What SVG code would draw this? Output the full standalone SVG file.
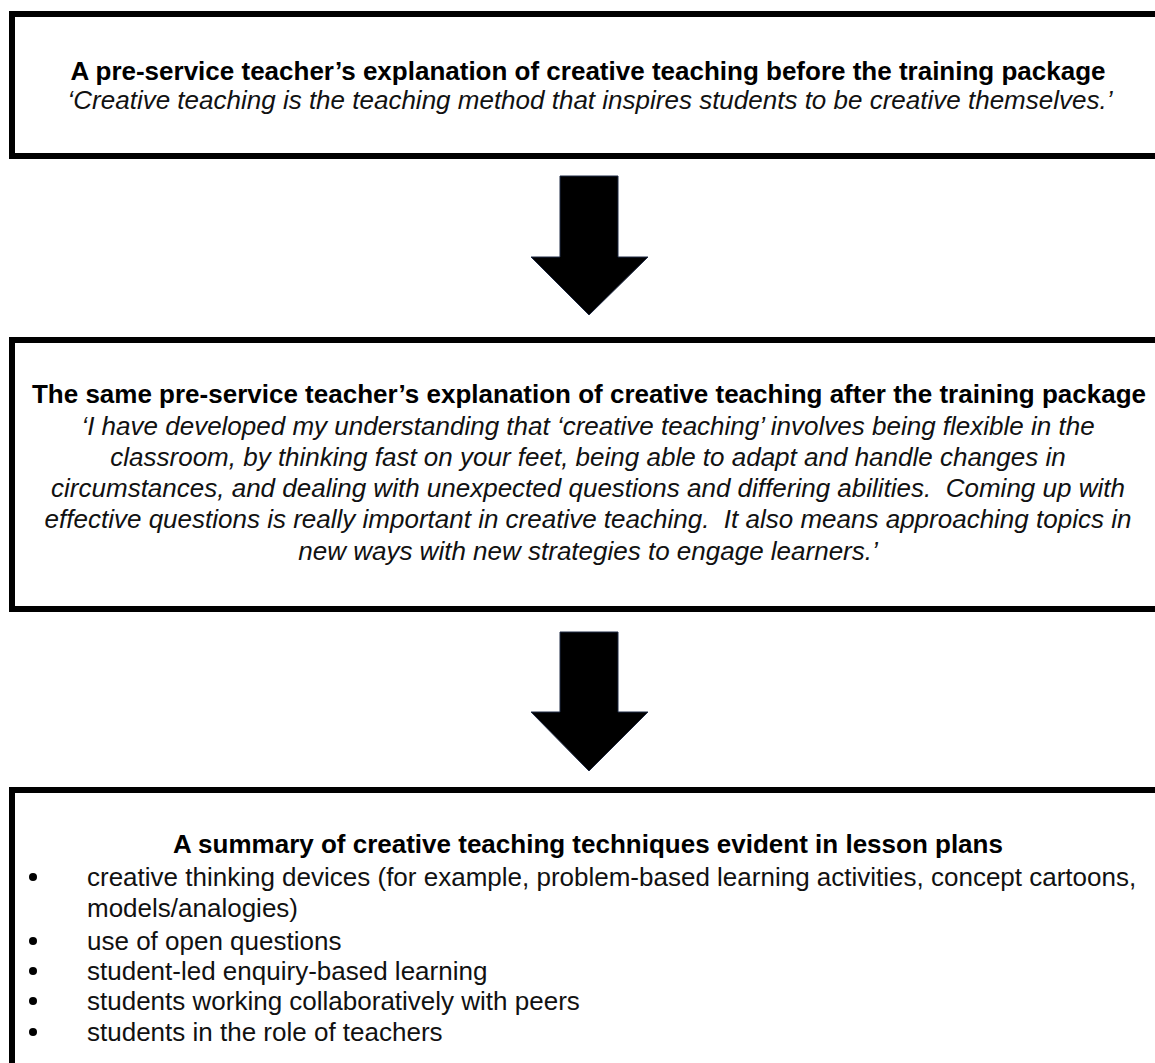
<svg xmlns="http://www.w3.org/2000/svg" width="1155" height="1063" viewBox="0 0 1155 1063">
<style>
.box{fill:#fff;stroke:#000;stroke-width:6}
.t{font-family:"Liberation Sans",Arial,sans-serif;font-size:26px;fill:#000}
.b{font-weight:bold;text-anchor:middle}
.i{font-style:italic;text-anchor:middle;fill:#111}
.r{fill:#111}
.arrow{fill:#000;stroke:#1f2a44;stroke-width:1}
</style>
<rect width="1155" height="1063" fill="#fff"/>
<g id="node-before">
<rect class="box" x="12" y="14" width="1160" height="142"/>
<text class="t b" x="588" y="80">A pre-service teacher’s explanation of creative teaching before the training package</text>
<text class="t i" x="590" y="109">‘Creative teaching is the teaching method that inspires students to be creative themselves.’</text>
</g>
<g id="node-after">
<rect class="box" x="12" y="340" width="1160" height="269"/>
<text class="t b" x="589" y="403">The same pre-service teacher’s explanation of creative teaching after the training package</text>
<text class="t i" x="588" y="435" xml:space="preserve">‘I have developed my understanding that ‘creative teaching’ involves being flexible in the</text>
<text class="t i" x="588" y="466" xml:space="preserve">classroom, by thinking fast on your feet, being able to adapt and handle changes in</text>
<text class="t i" x="588" y="497" xml:space="preserve">circumstances, and dealing with unexpected questions and differing abilities.  Coming up with</text>
<text class="t i" x="588" y="528" xml:space="preserve">effective questions is really important in creative teaching.  It also means approaching topics in</text>
<text class="t i" x="588" y="560" xml:space="preserve">new ways with new strategies to engage learners.’</text>
</g>
<g id="node-summary">
<rect class="box" x="12" y="790" width="1160" height="300"/>
<text class="t b" x="588" y="853">A summary of creative teaching techniques evident in lesson plans</text>
<g fill="#000">
<circle cx="33" cy="877" r="4"/>
<circle cx="33" cy="941" r="4"/>
<circle cx="33" cy="971" r="4"/>
<circle cx="33" cy="1001" r="4"/>
<circle cx="33" cy="1032" r="4"/>
</g>
<text class="t r" x="87" y="886">creative thinking devices (for example, problem-based learning activities, concept cartoons,</text>
<text class="t r" x="87" y="917">models/analogies)</text>
<text class="t r" x="87" y="950">use of open questions</text>
<text class="t r" x="87" y="980">student-led enquiry-based learning</text>
<text class="t r" x="87" y="1010">students working collaboratively with peers</text>
<text class="t r" x="87" y="1041">students in the role of teachers</text>
</g>
<g id="connectors">
<path class="arrow" d="M560,176 H618 V257 H648 L589,315 L531,257 H560 Z"/>
<path class="arrow" d="M560,632 H618 V712 H648 L589,771 L531,712 H560 Z"/>
</g>
</svg>
